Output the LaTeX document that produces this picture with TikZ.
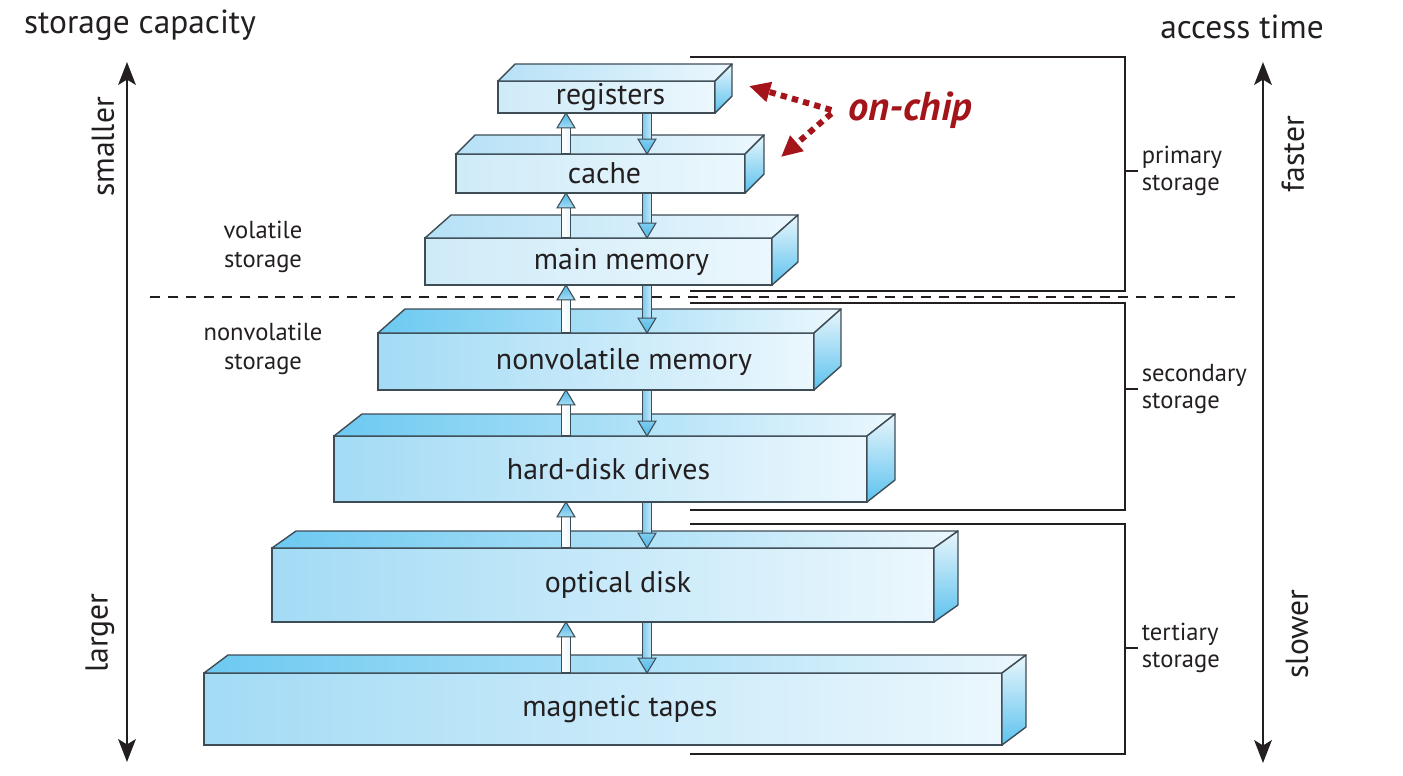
\documentclass[tikz,border=0pt]{standalone}
\usepackage{fontspec}
\setmainfont{PT Sans}
\usepackage{xcolor}
\usepackage{tikz}
\usetikzlibrary{arrows.meta,calc}

\definecolor{boxline}{HTML}{3E4C56}
\definecolor{inktext}{HTML}{231F20}
\definecolor{frontdark}{HTML}{A3DBF5}
\definecolor{frontlight}{HTML}{EBF7FD}
\definecolor{topdark}{HTML}{6CC9F1}
\definecolor{volfront}{HTML}{CFEBF8}
\definecolor{voltop}{HTML}{B6E1F6}
\definecolor{sidelight}{HTML}{E9F6FC}
\definecolor{sidedark}{HTML}{5CC2EE}
\definecolor{headblue}{HTML}{4DB9E8}
\definecolor{shaftblue}{HTML}{7FCCEE}
\definecolor{chipred}{HTML}{A3151A}

\tikzset{
  level/.style={draw=boxline, line width=0.8pt, inner sep=0pt, outer sep=0pt},
  levellabel/.style={text=inktext, inner sep=0pt, font=\fontsize{17}{20}\selectfont},
  boxedge/.style={draw=boxline, line width=0.8pt, line join=round},
  upshaft/.style={draw=boxline, line width=0.6pt, left color=white, right color=frontlight},
  uphead/.style={draw=boxline, line width=0.6pt, top color=headblue, bottom color=shaftblue!70},
  downshaft/.style={draw=boxline, line width=0.6pt, left color=shaftblue, right color=shaftblue!45},
  downhead/.style={draw=boxline, line width=0.6pt, top color=shaftblue, bottom color=headblue},
  bracketline/.style={line width=1.4pt, draw=inktext},
  sidelabel/.style={text=inktext, align=left, inner sep=2pt, font=\fontsize{14}{15.5}\selectfont},
  leftlabel/.style={text=inktext, align=center, font=\fontsize{14}{16.5}\selectfont},
  bigtitle/.style={text=inktext, font=\fontsize{19}{22}\selectfont},
  axislabel/.style={text=inktext, rotate=90, font=\fontsize{18}{20}\selectfont},
  axisarrow/.style={line width=1.4pt, draw=inktext,
    {Stealth[length=13pt,width=10pt,inset=3pt]}-{Stealth[length=13pt,width=10pt,inset=3pt]}},
  chiparrow/.style={draw=chipred, line width=3.4pt, dash pattern=on 3.6pt off 3pt,
    -{Triangle[length=12pt,width=11pt]}}
}

\begin{document}
\begin{tikzpicture}[x=0.02cm, y=-0.02cm]
\useasboundingbox (0,0) rectangle (1403,775);

% volatile / nonvolatile border
\draw[line width=1.1pt, inktext, dash pattern=on 5.7pt off 4.5pt] (150,297) -- (1240,297);

% the levels of the hierarchy
\foreach \n/\l/\r/\t/\b/\dx/\dy/\fc/\tc/\sh/\txt in {
  reg/498/715/81/113/17/17/volfront/voltop/4/registers,
  cache/456/745/154/193/19/19/volfront/voltop/4/cache,
  main/425/772/238/285/26/23/volfront/voltop/23/main memory,
  nvm/378/814/333/390/27/24/frontdark/topdark/28/nonvolatile memory,
  hdd/334/867/436/502/28/22/frontdark/topdark/8/hard-disk drives,
  opt/272/934/548/622/24/17/frontdark/topdark/15/optical disk,
  tape/204/1002/673/745/24/18/frontdark/topdark/17/magnetic tapes}
{
  \node[level, minimum width={(\r-\l)*0.02cm}, minimum height={(\b-\t)*0.02cm},
    left color=\fc, right color=frontlight] (\n) at ({(\l+\r)/2},{(\t+\b)/2}) {};
  \draw[boxedge, left color=\tc, right color=frontlight] (\n.north west) -- ++(\dx,-\dy)
    -- ([shift={(\dx,-\dy)}]\n.north east) -- (\n.north east) -- cycle;
  \draw[boxedge, top color=sidelight, bottom color=sidedark] (\n.north east) -- ++(\dx,-\dy)
    -- ([shift={(\dx,-\dy)}]\n.south east) -- (\n.south east) -- cycle;
  \node[levellabel] (\n-text) at ([shift={(\sh,0)}]\n.center) {\txt};
}

% transfer arrows between levels
\coordinate (upx) at (566,0);
\coordinate (downx) at (647,0);

\foreach \a/\b in {reg/cache, cache/main, main/nvm, nvm/hdd, hdd/opt, opt/tape}
{
  \draw[upshaft] let \p1=(\b.north -| upx), \p2=(\a.south -| upx) in
    (\x1-2.3pt,\y1) -- (\x1-2.3pt,\y2-8.5pt) -- (\x1+2.3pt,\y2-8.5pt) -- (\x1+2.3pt,\y1) -- cycle;
  \draw[uphead] let \p2=(\a.south -| upx) in
    (\x2-5.1pt,\y2-8.5pt) -- (\x2,\y2) -- (\x2+5.1pt,\y2-8.5pt) -- cycle;
  \draw[downshaft] let \p1=(\b.north -| downx), \p2=(\a.south -| downx) in
    (\x2-2.3pt,\y2) -- (\x2-2.3pt,\y1+8.5pt) -- (\x2+2.3pt,\y1+8.5pt) -- (\x2+2.3pt,\y2) -- cycle;
  \draw[downhead] let \p1=(\b.north -| downx) in
    (\x1-5.1pt,\y1+8.5pt) -- (\x1,\y1) -- (\x1+5.1pt,\y1+8.5pt) -- cycle;
}

% storage classes on the right
\coordinate (brx) at (1125,0);
\draw[bracketline] (690,57) -| (1125,291) -- (690,291);
\draw[bracketline] (690,303) -| (1125,510) -- (690,510);
\draw[bracketline] (690,524) -| (1125,754) -- (690,754);

\node[sidelabel, anchor=west] (prim) at (1138,171) {primary\\storage};
\node[sidelabel, anchor=west] (sec) at (1138,389) {secondary\\storage};
\node[sidelabel, anchor=west] (tert) at (1138,648) {tertiary\\storage};
\foreach \s in {prim, sec, tert}
  \draw[bracketline] (\s.west -| brx) -- (\s.west);

\node[leftlabel] (vol) at (263,247) {volatile\\storage};
\node[leftlabel] (nonvol) at (263,349) {nonvolatile\\storage};

% the two scales
\node[bigtitle] (capacity) at (140,25) {storage capacity};
\node[bigtitle] (access) at (1242,27) {access time};

\coordinate (captop) at (127,62);
\coordinate (capbot) at (127,762);
\coordinate (timetop) at (1263,62);
\coordinate (timebot) at (1263,763);
\draw[axisarrow] (captop) -- (capbot);
\draw[axisarrow] (timetop) -- (timebot);

\node[axislabel] (small) at (103,147) {smaller};
\node[axislabel] (large) at (100,633) {larger};
\node[axislabel] (fast) at (1293,154) {faster};
\node[axislabel] (slow) at (1297,634) {slower};

% on-chip marker
\node[text=chipred, font=\fontsize{23}{26}\selectfont\bfseries\itshape] (onchip) at (910,110) {on-chip};
\coordinate (regtip) at (749,86);
\coordinate (cachetip) at (781,157);
\draw[chiparrow] ([xshift=-6pt]onchip.west) -- (regtip);
\draw[chiparrow] ([xshift=-6pt,yshift=-2pt]onchip.west) -- (cachetip);

\end{tikzpicture}
\end{document}
